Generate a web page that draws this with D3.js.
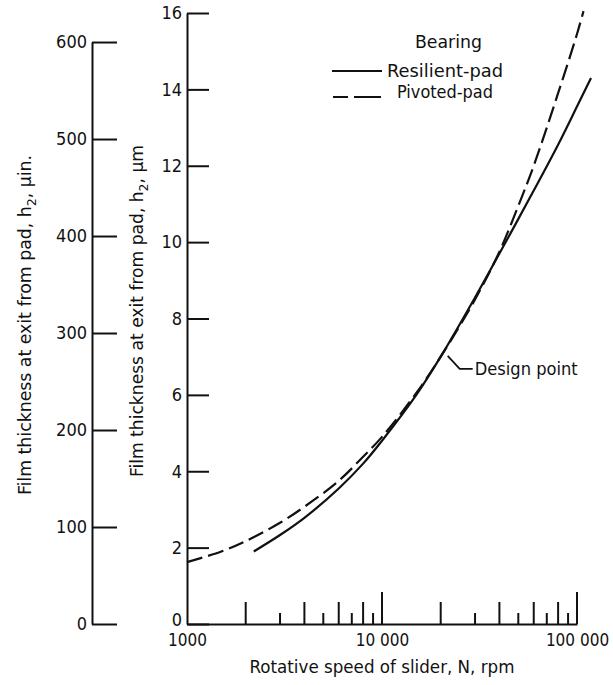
<!DOCTYPE html>
<html>
<head>
<meta charset="utf-8">
<script src="https://cdn.jsdelivr.net/npm/d3@7"></script>
<style>
  body { margin: 0; background: #fff; }
  svg text { font-family: "Liberation Sans Narrow", "DejaVu Sans Condensed", "Liberation Sans", sans-serif; fill: #111; }
</style>
</head>
<body>
<div id="chart"></div>
<script>
// Chart data
var pivotedN = [1000, 1500, 2000, 3000, 4000, 6000, 8000, 10000, 15000, 20000, 30000, 40000, 50000, 60000, 80000, 100000, 108000];
var pivotedH = [1.62, 1.9, 2.17, 2.65, 3.07, 3.75, 4.38, 4.9, 6.05, 7.0, 8.5, 9.75, 10.95, 12.0, 13.9, 15.45, 16.05];
var resilientN = [2200, 3000, 4000, 6000, 8000, 10000, 15000, 20000, 30000, 40000, 60000, 80000, 100000, 118000];
var resilientH = [1.9, 2.33, 2.78, 3.55, 4.2, 4.8, 6.0, 7.0, 8.55, 9.7, 11.35, 12.55, 13.55, 14.3];

var xTickValues = [1000, 10000, 100000];
var xTickLabels = ["1000", "10 000", "100 000"];
var xMinorTicks = [2000, 3000, 4000, 5000, 6000, 7000, 8000, 9000, 10000,
  20000, 30000, 40000, 50000, 60000, 70000, 80000, 90000, 100000];
var umTicks = [0, 2, 4, 6, 8, 10, 12, 14, 16];
var uinTicks = [0, 100, 200, 300, 400, 500, 600];
var designPoint = { n: 20000, h: 7.1, label: "Design point" };

var svgWidth = 613;
var svgHeight = 685;

var svg = d3.select("#chart")
  .append("svg")
  .attr("width", svgWidth)
  .attr("height", svgHeight);

// Scales
var xScale = d3.scaleLog().domain([1000, 100000]).range([187, 577]);
var yScale = d3.scaleLinear().domain([0, 16]).range([624, 13]);
// micro-inch axis: 1 uin = 0.0254 um
var yInScale = d3.scaleLinear().domain([0, 600]).range([yScale(0), yScale(600 * 0.0254)]);

// Secondary (uin) axis
var inAxis = svg.append("g")
  .attr("transform", "translate(92,0)")
  .call(d3.axisLeft(yInScale).tickValues(uinTicks).tickSize(-25).tickSizeOuter(0).tickPadding(5));

// Main (um) axis
var umAxis = svg.append("g")
  .attr("transform", `translate(${xScale(1000)},0)`)
  .call(d3.axisLeft(yScale).tickValues(umTicks).tickSize(-22).tickSizeOuter(0).tickPadding(5));

[inAxis, umAxis].forEach(function(g) {
  g.selectAll("path, line").attr("stroke", "#111").attr("stroke-width", 2);
  g.selectAll("text").style("font-size", "18px");
});
// the 0 label sits a little above the speed axis
umAxis.selectAll(".tick text").filter(d => d === 0).attr("dy", "0.1em");

// X axis
var xAxis = svg.append("g")
  .attr("transform", `translate(0,${yScale(0)})`)
  .call(d3.axisBottom(xScale)
    .tickValues(xTickValues)
    .tickFormat((d, i) => xTickLabels[i])
    .tickSize(0)
    .tickSizeOuter(0)
    .tickPadding(10));
xAxis.select(".domain").attr("stroke", "#111").attr("stroke-width", 2);
xAxis.selectAll("text").style("font-size", "17px");

// upward tick marks on the speed axis
svg.append("g").selectAll("line")
  .data(xMinorTicks)
  .enter()
  .append("line")
  .attr("x1", d => xScale(d))
  .attr("x2", d => xScale(d))
  .attr("y1", yScale(0))
  .attr("y2", function(d) {
    var m = Math.round(d / Math.pow(10, Math.floor(Math.log10(d) + 1e-9)));
    var len = m === 1 ? 32 : (m % 2 === 0 ? 22 : 11);
    return yScale(0) - len;
  })
  .attr("stroke", "#111")
  .attr("stroke-width", 2);

// Curves
var line = d3.line()
  .x(d => xScale(d[0]))
  .y(d => yScale(d[1]))
  .curve(d3.curveCatmullRom.alpha(0.5));

svg.append("path")
  .datum(resilientN.map((n, i) => [n, resilientH[i]]))
  .attr("d", line)
  .attr("fill", "none")
  .attr("stroke", "#111")
  .attr("stroke-width", 2.2);

svg.append("path")
  .datum(pivotedN.map((n, i) => [n, pivotedH[i]]))
  .attr("d", line)
  .attr("fill", "none")
  .attr("stroke", "#111")
  .attr("stroke-width", 2.2)
  .attr("stroke-dasharray", "16,6");

// Design point leader
var dpx = xScale(designPoint.n), dpy = yScale(designPoint.h);
svg.append("path")
  .attr("d", `M${dpx + 7},${dpy + 3} L${dpx + 19},${dpy + 16} L${dpx + 32},${dpy + 16}`)
  .attr("fill", "none")
  .attr("stroke", "#111")
  .attr("stroke-width", 1.8);
svg.append("text")
  .attr("x", dpx + 34)
  .attr("y", dpy + 22)
  .style("font-size", "18px")
  .attr("textLength", 103)
  .attr("lengthAdjust", "spacingAndGlyphs")
  .text(designPoint.label);

// Legend
svg.append("text")
  .attr("x", 415).attr("y", 48)
  .style("font-size", "17px")
  .attr("textLength", 67)
  .attr("lengthAdjust", "spacingAndGlyphs")
  .text("Bearing");

svg.append("line")
  .attr("x1", 332).attr("x2", 382).attr("y1", 71).attr("y2", 71)
  .attr("stroke", "#111").attr("stroke-width", 2.2);
svg.append("text")
  .attr("x", 387).attr("y", 77)
  .style("font-size", "17px")
  .attr("textLength", 116)
  .attr("lengthAdjust", "spacingAndGlyphs")
  .text("Resilient-pad");

svg.append("line")
  .attr("x1", 333).attr("x2", 381).attr("y1", 97).attr("y2", 97)
  .attr("stroke", "#111").attr("stroke-width", 2.2)
  .attr("stroke-dasharray", "15,6,27");
svg.append("text")
  .attr("x", 397).attr("y", 98)
  .style("font-size", "17px")
  .attr("textLength", 96)
  .attr("lengthAdjust", "spacingAndGlyphs")
  .text("Pivoted-pad");

// Axis titles
svg.append("text")
  .attr("transform", `translate(${(187 + 577) / 2}, 673)`)
  .attr("text-anchor", "middle")
  .style("font-size", "18px")
  .attr("textLength", 265)
  .attr("lengthAdjust", "spacingAndGlyphs")
  .text("Rotative speed of slider, N, rpm");

function yTitle(x, yc, len, unit) {
  var t = svg.append("text")
    .attr("transform", `translate(${x}, ${yc}) rotate(-90)`)
    .attr("text-anchor", "middle")
    .style("font-size", "18px")
    .attr("textLength", len)
    .attr("lengthAdjust", "spacingAndGlyphs");
  t.append("tspan").text("Film thickness at exit from pad,  h");
  t.append("tspan").attr("dy", 5).style("font-size", "13px").text("2");
  t.append("tspan").attr("dy", -5).text(",  " + unit);
}
yTitle(31, 325, 340, "\u00b5in.");
yTitle(143, 311, 332, "\u00b5m");
</script>
</body>
</html>
